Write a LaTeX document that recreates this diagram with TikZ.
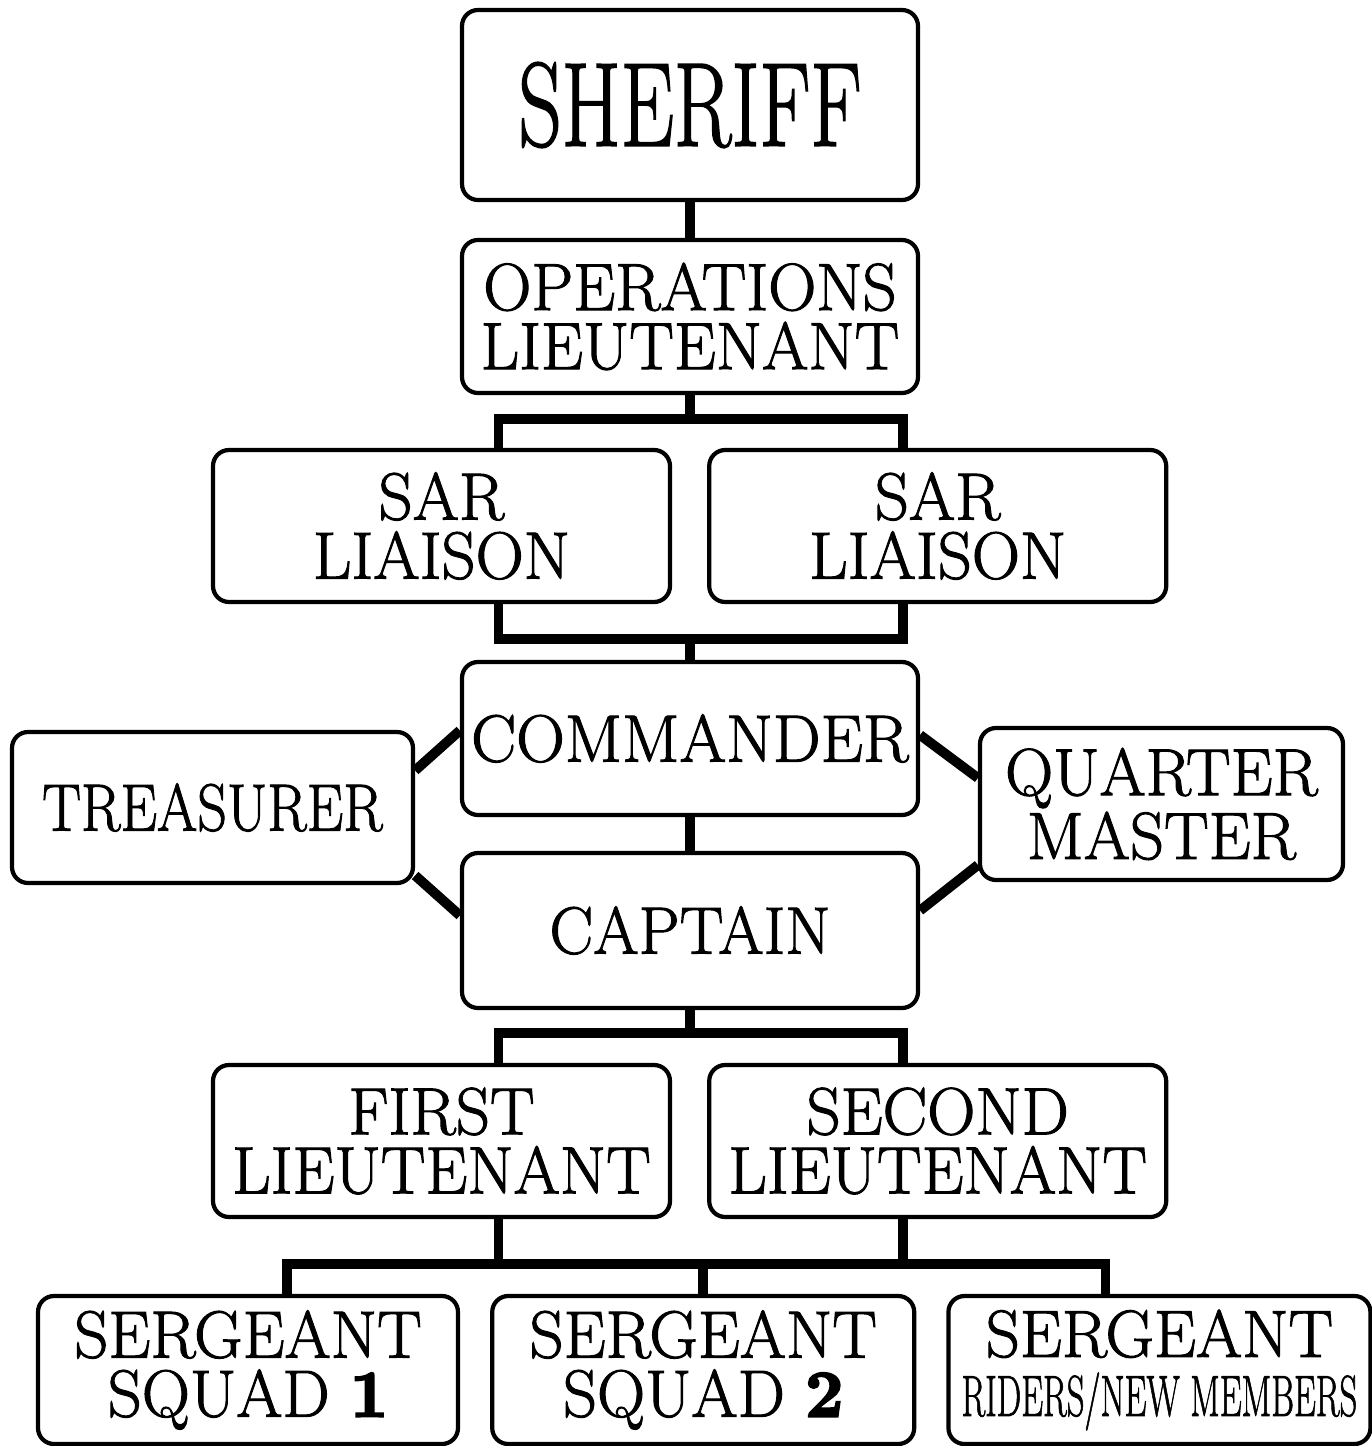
\documentclass[tikz,border=0pt]{standalone}
\usepackage{fontspec}
\usepackage{graphicx}
\usetikzlibrary{positioning}

\newfontfamily\orgfont{lmroman17-regular.otf}[FakeBold=1.5]
\newfontfamily\digitfont{lmroman10-bold.otf}[FakeBold=3]
\newcommand{\narrow}[2][1]{\scalebox{#1}[1]{#2}}

\begin{document}
\begin{tikzpicture}[
        box/.style={
            draw,
            line width=1.2pt,
            rounded corners=0.16cm,
            minimum width=4.56cm,
            minimum height=1.53cm,
            inner sep=0pt,
            align=center,
            font=\orgfont\fontsize{19}{16.8}\selectfont
        },
        link/.style={line width=2.8pt}
    ]
        \useasboundingbox (0,0) rectangle (13.72,-14.46);

        % main column
        \node[box, minimum height=1.90cm, font=\orgfont\fontsize{34}{34}\selectfont] (sheriff) at (6.90,-1.05) {\narrow[0.71]{SHERIFF}};
        \node[box] (opslt) at (6.90,-3.165) {\narrow{OPERATIONS}\\\narrow{LIEUTENANT}};
        \node[box] (cmdr) at (6.90,-7.385) {\narrow[1.01]{COMMANDER}};
        \node[box, minimum height=1.55cm] (capt) at (6.90,-9.305) {\narrow[0.98]{CAPTAIN}};

        % liaisons
        \node[box, minimum width=4.57cm, minimum height=1.52cm] (sarleft) at (4.415,-5.26) {\narrow{SAR}\\\narrow{LIAISON}};
        \node[box, minimum width=4.57cm, minimum height=1.52cm, right=0.35cm of sarleft] (sarright) {\narrow{SAR}\\\narrow{LIAISON}};

        % side boxes
        \node[box, minimum width=4.01cm, minimum height=1.51cm] (treas) at (2.125,-8.075) {\narrow[0.87]{TREASURER}};
        \node[box, minimum width=3.63cm, minimum height=1.52cm] (qm) at (11.615,-8.04) {\narrow{QUARTER}\\\narrow{MASTER}};

        % lieutenants
        \node[box, minimum width=4.57cm, minimum height=1.52cm] (firstlt) at (4.415,-11.41) {\narrow{FIRST}\\\narrow{LIEUTENANT}};
        \node[box, minimum width=4.57cm, minimum height=1.52cm, right=0.35cm of firstlt] (secondlt) {\narrow{SECOND}\\\narrow{LIEUTENANT}};

        % sergeants
        \node[box, minimum width=4.20cm, minimum height=1.48cm] (sgtone) at (2.48,-13.70) {\narrow{SERGEANT}\\\narrow{SQUAD {\digitfont 1}}};
        \node[box, minimum width=4.22cm, minimum height=1.48cm, right=0.30cm of sgtone] (sgttwo) {\narrow{SERGEANT}\\\narrow{SQUAD {\digitfont 2}}};
        \node[box, minimum width=4.22cm, minimum height=1.48cm, right=0.30cm of sgttwo] (sgtthree) {\narrow{SERGEANT}\\{\fontsize{16.5}{16.8}\selectfont\narrow[0.6]{RIDERS/NEW MEMBERS}}};

        % top links
        \draw[link] (sheriff) -- (opslt);
        \draw[link] (opslt.south) -- ++(0,-0.24) coordinate (opsjoin);
        \draw[link] ([xshift=0.57cm]sarleft.north) |- (opsjoin) -| ([xshift=-0.35cm]sarright.north);
        \draw[link] (cmdr.north) -- ++(0,0.21) coordinate (cmdrjoin);
        \draw[link] ([xshift=0.57cm]sarleft.south) |- (cmdrjoin) -| ([xshift=-0.35cm]sarright.south);
        \draw[link] (cmdr) -- (capt);

        % side links
        \draw[link] ([yshift=0.37cm]treas.east) -- ([yshift=0.08cm]cmdr.west);
        \draw[link] ([yshift=-0.68cm]treas.east) -- ([yshift=0.15cm]capt.west);
        \draw[link] ([yshift=0.035cm]cmdr.east) -- ([yshift=0.26cm]qm.west);
        \draw[link] ([yshift=0.2cm]capt.east) -- ([yshift=-0.61cm]qm.west);

        % bottom links
        \draw[link] (capt.south) -- ++(0,-0.23) coordinate (captjoin);
        \draw[link] ([xshift=0.57cm]firstlt.north) |- (captjoin) -| ([xshift=-0.35cm]secondlt.north);
        \draw[link] ([xshift=0.57cm]firstlt.south) -- ++(0,-0.45) coordinate (ltjoin);
        \draw[link] ([xshift=-0.35cm]secondlt.south) -- ++(0,-0.45);
        \draw[link] ([xshift=0.39cm]sgtone.north) |- (ltjoin) -| ([xshift=-0.54cm]sgtthree.north);
        \draw[link] (sgttwo.north) -- (sgttwo.north |- ltjoin);
    \end{tikzpicture}
\end{document}
